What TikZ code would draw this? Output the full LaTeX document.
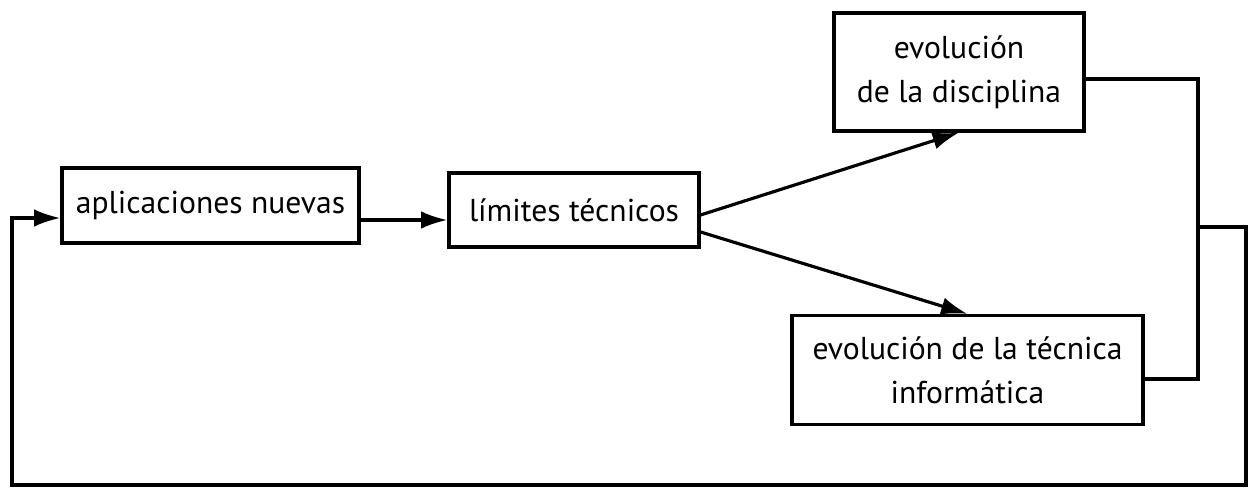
\documentclass[tikz,border=0pt]{standalone}
\usepackage{fontspec}
\setmainfont{PT Sans}
\usepackage{tikz}
\usetikzlibrary{arrows.meta}

\begin{document}
\begin{tikzpicture}[x=0.02cm,y=-0.02cm,
        caja/.style={draw, line width=1.8pt, align=center, inner sep=0pt,
            font=\fontsize{18}{25}\selectfont},
        flecha/.style={line width=1.8pt, -{Latex[length=15pt,width=10pt]}},
        linea/.style={line width=1.8pt}]
                \useasboundingbox (0,0) rectangle (1248,497);
                \node[caja, minimum width=5.94cm, minimum height=1.5cm] (aplic) at (210.5,205.5) {aplicaciones nuevas};
                \node[caja, minimum width=5.0cm, minimum height=1.48cm] (lim) at (574,210) {límites técnicos};
                \node[caja, minimum width=5.0cm, minimum height=2.36cm] (disc) at (959,72) {evolución\\de la disciplina};
                \node[caja, minimum width=7.02cm, minimum height=2.18cm] (tec) at (967.5,370) {evolución de la técnica\\informática};
                \coordinate (ain) at ([yshift=-0.25cm]aplic.west);
                \coordinate (lin) at ([yshift=-0.2cm]lim.west);
                \coordinate (jn) at (1198,227);
                \draw[flecha] (aplic.east |- lin) -- (lin);
                \draw[flecha] ([yshift=-0.1cm]lim.east) -- (disc.south);
                \draw[flecha] ([yshift=-0.44cm]lim.east) -- (tec.north);
                \draw[linea] ([yshift=-0.14cm]disc.east) -| (jn);
                \draw[linea] ([yshift=-0.18cm]tec.east) -| (jn);
                \draw[flecha] (jn) -- (1246,227) -- (1246,485) -- (12,485) |- (ain);
            \end{tikzpicture}
\end{document}
